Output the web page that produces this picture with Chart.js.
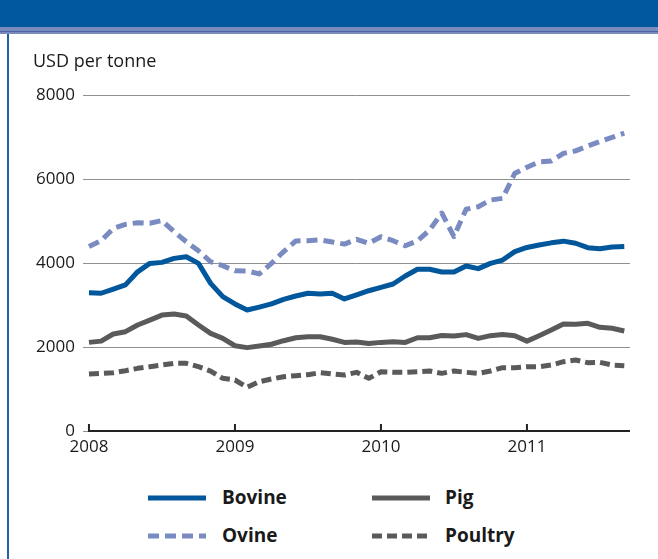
<!DOCTYPE html>
<html>
<head>
<meta charset="utf-8">
<script src="https://cdn.jsdelivr.net/npm/chart.js@4.4.1/dist/chart.umd.min.js"></script>
<style>
  html, body { margin: 0; padding: 0; background: #fff; }
  body { width: 658px; height: 559px; position: relative; overflow: hidden; font-family: "Open Sans", sans-serif; }
  #hdr { position: absolute; left: 0; top: 0; width: 658px; height: 27px; background: #00579b; }
  #stripe { position: absolute; left: 0; top: 27px; width: 658px; height: 7px; background: #7a8bbf; }
  #stripe2 { position: absolute; left: 0; top: 31px; width: 658px; height: 1px; background: #4b62a3; }
  #lborder { position: absolute; left: 7px; top: 34px; width: 2px; height: 525px; background: #1f62a5; }
  #wrap { position: absolute; left: 0; top: 0; width: 658px; height: 475px; }
  #unit { position: absolute; left: 33px; top: 48px; font-size: 18px; color: #1a1a1a; }
  .leg { position: absolute; font-weight: bold; font-size: 19px; color: #1a1a1a; line-height: 20px; }
  .legsvg { position: absolute; }
</style>
</head>
<body>
<div id="hdr"></div>
<div id="stripe"></div>
<div id="stripe2"></div>
<div id="lborder"></div>
<div id="wrap"><canvas id="c" width="658" height="475"></canvas></div>
<div id="unit">USD per tonne</div>
<div id="legend"></div>
<script>
// Monthly categories (Jan 2008 .. Sep 2011)
const months = [];
for (let y = 2008; y <= 2011; y++) for (let m = 1; m <= 12; m++) { if (months.length < 45) months.push(y + '-' + String(m).padStart(2, '0')); }

const bovine = [3290,3280,3380,3480,3790,3990,4015,4110,4150,3990,3515,3200,3025,2880,2950,3025,3135,3215,3280,3260,3280,3145,3240,3340,3420,3500,3690,3850,3850,3785,3785,3930,3865,3990,4070,4270,4370,4430,4480,4520,4470,4365,4340,4380,4390];
const ovine = [4390,4530,4825,4920,4960,4945,5010,4745,4505,4290,4030,3935,3815,3810,3740,3990,4270,4525,4530,4550,4500,4450,4565,4470,4625,4530,4410,4530,4785,5190,4630,5280,5340,5500,5540,6135,6280,6410,6430,6610,6670,6785,6890,6990,7090];
const pig = [2110,2140,2310,2365,2525,2640,2760,2785,2740,2525,2325,2205,2030,1985,2025,2065,2150,2220,2245,2245,2185,2110,2120,2085,2110,2125,2110,2220,2220,2275,2260,2295,2205,2270,2295,2270,2140,2270,2405,2550,2540,2565,2470,2445,2380];
const poultry = [1357,1373,1389,1436,1492,1531,1571,1611,1611,1531,1428,1254,1214,1040,1174,1238,1293,1317,1341,1389,1357,1333,1397,1254,1412,1397,1397,1412,1428,1373,1428,1397,1373,1428,1508,1508,1531,1531,1571,1650,1690,1627,1635,1571,1555];

const yearTicks = [0, 12, 24, 36];
const yearLabels = ['2008', '2009', '2010', '2011'];
const yTicks = [0, 2000, 4000, 6000, 8000];

const seriesNames = ['Bovine', 'Ovine', 'Pig', 'Poultry'];
const seriesColors = ['#00579b', '#7a8bc1', '#5a5a5a', '#5a5a5a'];
const seriesDash = [[], [11, 6], [], [10, 5]];
const seriesData = [bovine, ovine, pig, poultry];

const toPts = arr => arr.map((v, i) => ({ x: i, y: v }));

const axisPlugin = {
  id: 'axisLine',
  afterDatasetsDraw(chart) {
    const { ctx, scales: { x, y }, chartArea } = chart;
    const y0 = y.getPixelForValue(0);
    ctx.save();
    ctx.strokeStyle = '#222';
    ctx.lineWidth = 2;
    ctx.beginPath();
    ctx.moveTo(x.getPixelForValue(0) - 1, y0);
    ctx.lineTo(chartArea.right, y0);
    yearTicks.forEach(t => {
      const px = x.getPixelForValue(t);
      ctx.moveTo(px, y0);
      ctx.lineTo(px, y0 - 7);
    });
    ctx.stroke();
    ctx.restore();
  }
};

new Chart(document.getElementById('c'), {
  type: 'line',
  data: {
    datasets: seriesData.map((d, i) => ({
      label: seriesNames[i],
      data: toPts(d),
      borderColor: seriesColors[i],
      backgroundColor: seriesColors[i],
      borderWidth: 5,
      borderDash: seriesDash[i],
      pointRadius: 0,
      tension: 0,
      borderJoinStyle: 'round',
      borderCapStyle: 'butt',
      fill: false
    })).reverse()
  },
  options: {
    responsive: false,
    animation: false,
    devicePixelRatio: 1,
    layout: { padding: { top: 95, right: 28, left: 0, bottom: 0 } },
    plugins: { legend: { display: false }, tooltip: { enabled: false } },
    scales: {
      x: {
        type: 'linear',
        min: -0.49,
        max: 44.47,
        afterFit(s) { s.height = 44; },
        afterBuildTicks(s) { s.ticks = yearTicks.map(v => ({ value: v })); },
        grid: { display: false, drawTicks: false },
        border: { display: false },
        ticks: {
          padding: 6,
          color: '#1a1a1a',
          font: { family: 'Open Sans', size: 17 },
          maxRotation: 0,
          autoSkip: false,
          callback: (v) => yearLabels[yearTicks.indexOf(v)]
        }
      },
      y: {
        min: 0,
        max: 8000,
        afterFit(s) { s.width = 83; },
        afterBuildTicks(s) { s.ticks = yTicks.map(v => ({ value: v })); },
        grid: { color: '#8f8f8f', lineWidth: 1, drawTicks: false },
        border: { display: false },
        ticks: {
          padding: 8,
          color: '#1a1a1a',
          font: { family: 'Open Sans', size: 17 },
          callback: (v) => String(v)
        }
      }
    }
  },
  plugins: [axisPlugin]
});

// Legend (2 x 2 grid)
const legendPos = [
  { name: 'Bovine', lx: 148, tx: 222, cy: 498 },
  { name: 'Pig', lx: 372, tx: 445, cy: 498 },
  { name: 'Ovine', lx: 148, tx: 222, cy: 536 },
  { name: 'Poultry', lx: 372, tx: 445, cy: 536 }
];
const legendEl = document.getElementById('legend');
legendPos.forEach(p => {
  const i = seriesNames.indexOf(p.name);
  const svg = document.createElementNS('http://www.w3.org/2000/svg', 'svg');
  svg.setAttribute('class', 'legsvg');
  svg.setAttribute('width', '60'); svg.setAttribute('height', '10');
  svg.style.left = p.lx + 'px'; svg.style.top = (p.cy - 5) + 'px';
  const ln = document.createElementNS('http://www.w3.org/2000/svg', 'line');
  ln.setAttribute('x1', '0'); ln.setAttribute('y1', '5'); ln.setAttribute('x2', '58'); ln.setAttribute('y2', '5');
  ln.setAttribute('stroke', seriesColors[i]); ln.setAttribute('stroke-width', '5');
  if (seriesDash[i].length) ln.setAttribute('stroke-dasharray', seriesDash[i].join(' '));
  svg.appendChild(ln);
  legendEl.appendChild(svg);
  const t = document.createElement('div');
  t.className = 'leg';
  t.textContent = p.name;
  t.style.left = p.tx + 'px'; t.style.top = (p.cy - 11) + 'px';
  legendEl.appendChild(t);
});
</script>
</body>
</html>
